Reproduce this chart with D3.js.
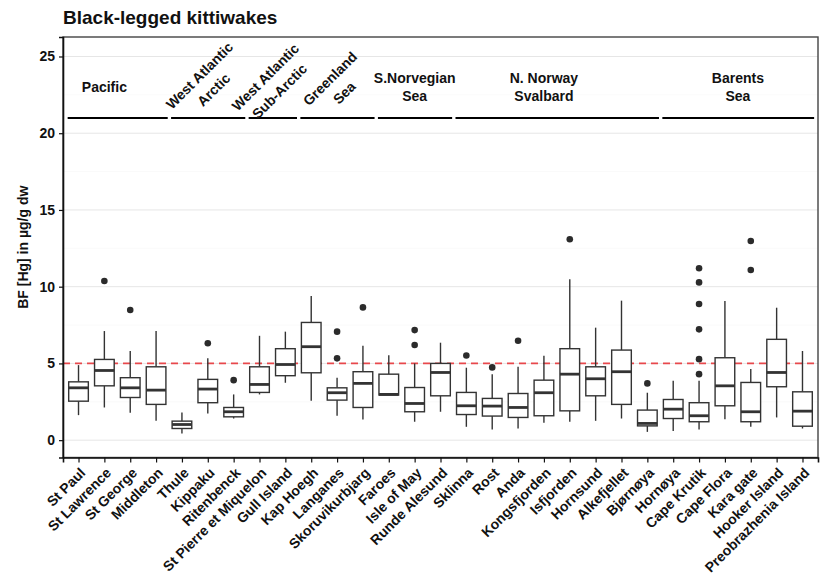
<!DOCTYPE html>
<html>
<head>
<meta charset="utf-8">
<script src="https://cdn.jsdelivr.net/npm/d3@7"></script>
<style>
  body { margin: 0; background: #fff; }
  svg text { font-family: "Liberation Sans", Arial, sans-serif; font-weight: bold; }
</style>
</head>
<body>
<svg id="chart" width="821" height="580"></svg>
<script>
// colonies, left to right
const colonies = ['St Paul','St Lawrence','St George','Middleton','Thule','Kippaku','Ritenbenck',
  'St Pierre et Miquelon','Gull Island','Kap Hoegh','Langanes','Skoruvikurbjarg','Faroes','Isle of May',
  'Runde Alesund','Sklinna','Rost','Anda','Kongsfjorden','Isfjorden','Hornsund','Alkefjellet','Bjørnøya',
  'Hornøya','Cape Krutik','Cape Flora','Kara gate','Hooker Island','Preobrazhenia Island'];

// box stats (µg/g dw)
const whiskerLow = [1.63,2.13,1.78,1.26,0.43,1.74,1.41,2.98,3.74,2.57,1.59,1.35,2.94,1.20,1.85,0.87,0.70,0.76,1.13,1.20,1.26,1.41,0.54,0.59,0.70,1.37,0.87,1.48,0.76];
const q1         = [2.54,3.54,2.78,2.33,0.76,2.44,1.52,3.11,4.20,4.39,2.61,2.13,2.94,1.85,2.89,1.67,1.57,1.48,1.59,1.91,2.89,2.33,0.93,1.41,1.20,2.24,1.20,3.48,0.91];
const median     = [3.41,4.54,3.41,3.26,1.02,3.33,1.85,3.63,4.93,6.09,3.09,3.70,2.98,2.39,4.41,2.24,2.22,2.13,3.09,4.30,4.00,4.46,1.09,2.02,1.59,3.54,1.85,4.41,1.89];
const q3         = [3.80,5.26,4.07,4.78,1.24,3.96,2.13,4.78,5.96,7.67,3.41,4.46,4.30,3.43,5.00,3.11,2.72,3.04,3.91,5.96,4.78,5.87,1.96,2.65,2.44,5.37,3.76,6.57,3.15];
const whiskerHigh= [4.89,7.11,5.81,7.11,1.80,5.33,2.98,6.80,7.07,9.39,4.07,6.15,5.54,5.00,6.35,4.72,4.30,4.78,5.50,10.48,7.33,9.09,3.09,3.87,3.87,9.07,4.63,8.63,5.81];
const outliers = [[],[10.37],[8.48],[],[],[6.31],[3.91],[],[],[],[7.07,5.33],[8.65],[],[7.17,6.20],[],[5.52],[4.74],[6.48],[],[13.09],[],[],[3.70],[],[11.2,10.28,8.87,7.22,5.28,4.30],[],[12.98,11.09],[],[]];

// regional groups (first / last colony index), label lines and label centre (index, value)
const regionLabels = [['Pacific'],['West Atlantic','Arctic'],['West Atlantic','Sub-Arctic'],['Greenland','Sea'],['S.Norvegian','Sea'],['N. Norway','Svalbard'],['Barents','Sea']];
const regionFirst = [0,4,7,9,12,15,23];
const regionLast  = [3,6,8,11,14,22,28];
const regionLabelAt = [1,4.95,7.5,10,13,18,25.5];
const regionLabelY  = [23,23.3,23.2,23.1,23,23,23];
const regionTilted = [false,true,true,true,false,false,false];

const yTicks = [0,5,10,15,20,25];
const threshold = 5;

const svg = d3.select('#chart');
const pL = 63, pR = 818, pT = 37, pB = 457.5;

svg.append('text').attr('x', 63).attr('y', 24).style('font-size','19px').attr('fill','#111')
  .text('Black-legged kittiwakes');

const x = d3.scalePoint().domain(d3.range(colonies.length)).range([pL, pR]).padding(0.6);
const step = x.step();
const xi = i => pL + step * 0.6 + i * step;   // fractional index -> px
const y = d3.scaleLinear().domain([-1.13, 26.27]).range([pB, pT]);

// grid
const g = svg.append('g');
g.selectAll('line.minor').data(d3.range(2.5, 26, 5)).join('line').attr('class','minor')
  .attr('x1', pL).attr('x2', pR).attr('y1', d => y(d)).attr('y2', d => y(d))
  .attr('stroke', '#f6f6f6').attr('stroke-width', 0.6);
g.selectAll('line.major').data(yTicks).join('line').attr('class','major')
  .attr('x1', pL).attr('x2', pR).attr('y1', d => y(d)).attr('y2', d => y(d))
  .attr('stroke', '#e6e6e6').attr('stroke-width', 1);

// threshold
g.append('line').attr('x1', pL).attr('x2', pR).attr('y1', y(threshold)).attr('y2', y(threshold))
  .attr('stroke', '#e8484c').attr('stroke-width', 1.6).attr('stroke-dasharray', '7,5');

// boxes
const bw = step * 0.76;
const boxes = g.selectAll('g.box').data(colonies.map((c, i) => i)).join('g').attr('class','box')
  .attr('transform', i => `translate(${x(i)},0)`);
boxes.append('line').attr('y1', i => y(whiskerHigh[i])).attr('y2', i => y(q3[i]))
  .attr('stroke', '#333').attr('stroke-width', 1.4);
boxes.append('line').attr('y1', i => y(q1[i])).attr('y2', i => y(whiskerLow[i]))
  .attr('stroke', '#333').attr('stroke-width', 1.4);
boxes.append('rect').attr('x', -bw/2).attr('width', bw)
  .attr('y', i => y(q3[i])).attr('height', i => y(q1[i]) - y(q3[i]))
  .attr('fill', '#fff').attr('stroke', '#333').attr('stroke-width', 1.4);
boxes.append('line').attr('x1', -bw/2).attr('x2', bw/2).attr('y1', i => y(median[i])).attr('y2', i => y(median[i]))
  .attr('stroke', '#333').attr('stroke-width', 2.8);
boxes.selectAll('circle').data(i => outliers[i]).join('circle')
  .attr('r', 3.3).attr('cy', d => y(d)).attr('fill', '#2b2b2b');

// region brackets and labels
regionLabels.forEach((lines, k) => {
  g.append('line').attr('x1', xi(regionFirst[k] - 0.42)).attr('x2', xi(regionLast[k] + 0.45))
    .attr('y1', y(21)).attr('y2', y(21)).attr('stroke', '#000').attr('stroke-width', 2);
  const cx = xi(regionLabelAt[k]), cy = y(regionLabelY[k]);
  const lh = regionTilted[k] ? 20 : 18.5;
  const t = g.append('text').attr('text-anchor','middle').style('font-size','14px').attr('fill','#111')
    .attr('transform', `translate(${cx},${cy})` + (regionTilted[k] ? ' rotate(-45)' : ''));
  lines.forEach((ln, j) => {
    t.append('tspan').attr('x', 0).attr('y', (j - (lines.length - 1) / 2) * lh + 5).text(ln);
  });
});

// panel border
svg.append('rect').attr('x', pL).attr('y', pT).attr('width', pR - pL).attr('height', pB - pT)
  .attr('fill', 'none').attr('stroke', '#444').attr('stroke-width', 1.4);

// axes
const yAxis = svg.append('g').attr('transform', `translate(${pL},0)`)
  .call(d3.axisLeft(y).tickValues(yTicks).tickSize(4).tickPadding(4));
yAxis.select('.domain').attr('stroke', '#111').attr('stroke-width', 1.6);
yAxis.selectAll('.tick line').attr('stroke', '#111').attr('stroke-width', 1.2);
yAxis.selectAll('.tick text').attr('fill', '#111').style('font-size', '14px')
  .style('font-family', '"Liberation Sans", Arial, sans-serif').style('font-weight', 'bold');

const xAxis = svg.append('g').attr('transform', `translate(0,${pB})`)
  .call(d3.axisBottom(x).tickSize(5).tickFormat(i => colonies[i]));
xAxis.select('.domain').attr('stroke', '#111').attr('stroke-width', 1.6);
xAxis.selectAll('.tick line').attr('stroke', '#111').attr('stroke-width', 1.2);
xAxis.selectAll('.tick text').attr('fill', '#111').style('font-size', '14px')
  .style('font-family', '"Liberation Sans", Arial, sans-serif').style('font-weight', 'bold')
  .attr('text-anchor', 'end').attr('dy', '0.75em')
  .attr('transform', 'translate(-3,6) rotate(-45)').attr('y', 4);

// y title
svg.append('text').attr('transform', `translate(28,${(pT + pB) / 2}) rotate(-90)`)
  .attr('text-anchor', 'middle').style('font-size', '14px').attr('fill', '#111')
  .text('BF [Hg] in µg/g dw');
</script>
</body>
</html>
